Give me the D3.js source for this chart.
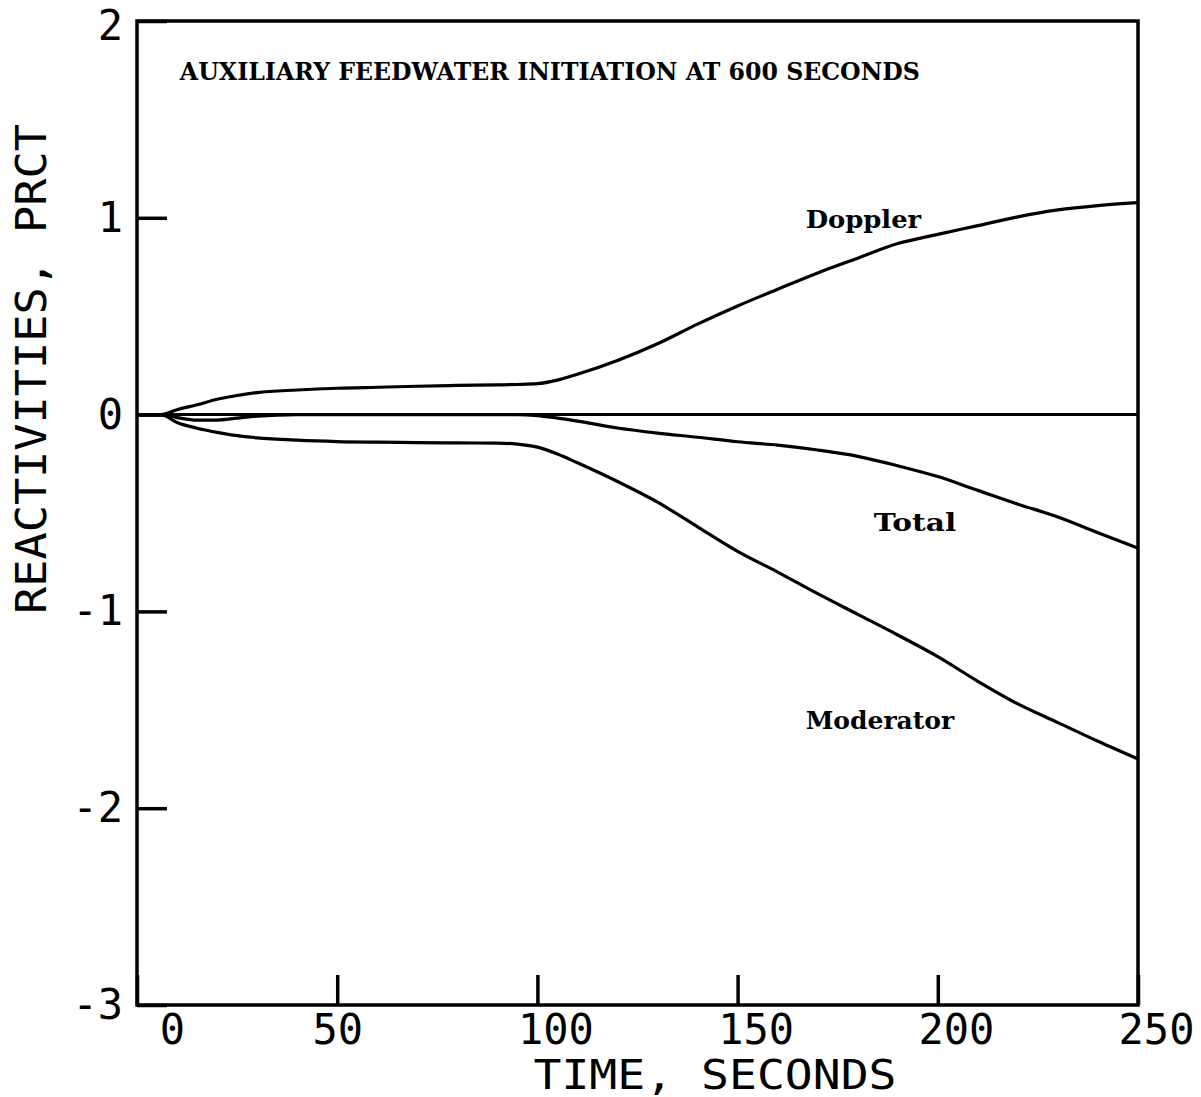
<!DOCTYPE html>
<html>
<head>
<meta charset="utf-8">
<script src="https://cdn.jsdelivr.net/npm/d3@7"></script>
<style>
  body { margin: 0; background: #fff; }
  .axis text { font-family: "DejaVu Sans Mono", monospace; font-size: 42px; fill: #000; }
  .axis line { stroke: #000; stroke-width: 3.5; }
  .note { font-family: "DejaVu Serif", "Liberation Serif", serif; font-weight: bold; fill: #000; }
</style>
</head>
<body>
<div id="chart"></div>
<script>
// time in seconds
var times = [0, 6, 10, 15, 20, 25, 30, 40, 50, 60, 70, 80, 90, 95, 100, 105, 110, 120, 130, 140, 150, 160, 170, 180, 190, 200, 210, 220, 230, 240, 250];

// reactivities, percent
var doppler = [0, 0, 0.025, 0.05, 0.078, 0.097, 0.112, 0.125, 0.134, 0.139, 0.144, 0.148, 0.151, 0.153, 0.157, 0.175, 0.205, 0.275, 0.36, 0.46, 0.552, 0.637, 0.72, 0.795, 0.869, 0.916, 0.96, 1.005, 1.04, 1.062, 1.077];
var moderator = [0, 0, -0.04, -0.069, -0.09, -0.107, -0.118, -0.13, -0.137, -0.14, -0.142, -0.144, -0.145, -0.15, -0.165, -0.2, -0.245, -0.34, -0.445, -0.57, -0.695, -0.8, -0.91, -1.015, -1.12, -1.23, -1.355, -1.47, -1.565, -1.66, -1.75];
var total = [0, 0, -0.015, -0.028, -0.028, -0.018, -0.008, 0, 0, 0, 0, 0, 0, 0, -0.005, -0.018, -0.033, -0.068, -0.094, -0.115, -0.138, -0.155, -0.18, -0.212, -0.26, -0.315, -0.385, -0.455, -0.52, -0.6, -0.678];

var xTicks = [0, 50, 100, 150, 200, 250];
var yTicks = [2, 1, 0, -1, -2, -3];

var curveLabels = [
    {name: "Doppler", t: 167, v: 0.95},
    {name: "Total", t: 184, v: -0.59},
    {name: "Moderator", t: 167, v: -1.60}
];
var title = "AUXILIARY FEEDWATER INITIATION AT 600 SECONDS";

var W = 1201, H = 1097;
var margin = {top: 21, right: 63, bottom: 92, left: 137};
var width = W - margin.left - margin.right;
var height = H - margin.top - margin.bottom;

var svg = d3.select("#chart").append("svg")
    .attr("width", W)
    .attr("height", H)
    .style("background", "#fff");

var g = svg.append("g")
    .attr("transform", "translate(" + margin.left + "," + margin.top + ")");

var x = d3.scaleLinear().domain([0, 250]).range([0, width]);
var y = d3.scaleLinear().domain([-3, 2]).range([height, 0]);

// axes: ticks point inward
var yAxis = g.append("g").attr("class", "axis")
    .call(d3.axisLeft(y).tickValues(yTicks).tickSize(-30).tickPadding(14).tickFormat(d3.format("d")));
yAxis.select(".domain").remove();
yAxis.selectAll("text").text(function(d) { return d < 0 ? "-" + Math.abs(d) : d; });
yAxis.selectAll(".tick").filter(function(d) { return d === 2; }).select("text").attr("dy", "0.45em");

var xAxis = g.append("g").attr("class", "axis")
    .attr("transform", "translate(0," + height + ")")
    .call(d3.axisBottom(x).tickValues(xTicks).tickSize(-30).tickPadding(9).tickFormat(d3.format("d")));
xAxis.select(".domain").remove();
// the old plotter put the labels a little right of the ticks
xAxis.selectAll("text").attr("dx", function(d) { return d === 0 ? 35 : (d === 50 ? 0 : 18); });

// frame
g.append("rect")
    .attr("width", width)
    .attr("height", height)
    .attr("fill", "none")
    .attr("stroke", "#000")
    .attr("stroke-width", 3.5);

// zero line
g.append("line")
    .attr("x1", x(0)).attr("x2", x(250))
    .attr("y1", y(0)).attr("y2", y(0))
    .attr("stroke", "#000")
    .attr("stroke-width", 3);

var line = d3.line()
    .x(function(d) { return x(d[0]); })
    .y(function(d) { return y(d[1]); })
    .curve(d3.curveMonotoneX);

[doppler, moderator, total].forEach(function(series) {
    g.append("path")
        .datum(times.map(function(t, i) { return [t, series[i]]; }))
        .attr("fill", "none")
        .attr("stroke", "#000")
        .attr("stroke-width", 3.2)
        .attr("d", line);
});

g.append("text")
    .attr("class", "note")
    .attr("x", x(10.7))
    .attr("y", 59)
    .attr("font-size", 25)
    .attr("textLength", 740)
    .attr("lengthAdjust", "spacingAndGlyphs")
    .text(title);

g.selectAll(".lbl")
    .data(curveLabels)
    .enter().append("text")
    .attr("class", "note")
    .attr("x", function(d) { return x(d.t); })
    .attr("y", function(d) { return y(d.v); })
    .attr("font-size", 25)
    .attr("textLength", function(d) { return d.name.length * 16.5; })
    .attr("lengthAdjust", "spacingAndGlyphs")
    .text(function(d) { return d.name; });

// axis titles
svg.append("text")
    .attr("transform", "translate(46,369) rotate(-90)")
    .attr("text-anchor", "middle")
    .attr("font-family", "DejaVu Sans Mono, monospace")
    .attr("font-size", 43)
    .attr("textLength", 490)
    .attr("lengthAdjust", "spacingAndGlyphs")
    .text("REACTIVITIES, PRCT");

svg.append("text")
    .attr("x", 715)
    .attr("y", 1089)
    .attr("text-anchor", "middle")
    .attr("font-family", "DejaVu Sans Mono, monospace")
    .attr("font-size", 40)
    .attr("textLength", 363)
    .attr("lengthAdjust", "spacingAndGlyphs")
    .text("TIME, SECONDS");
</script>
</body>
</html>
